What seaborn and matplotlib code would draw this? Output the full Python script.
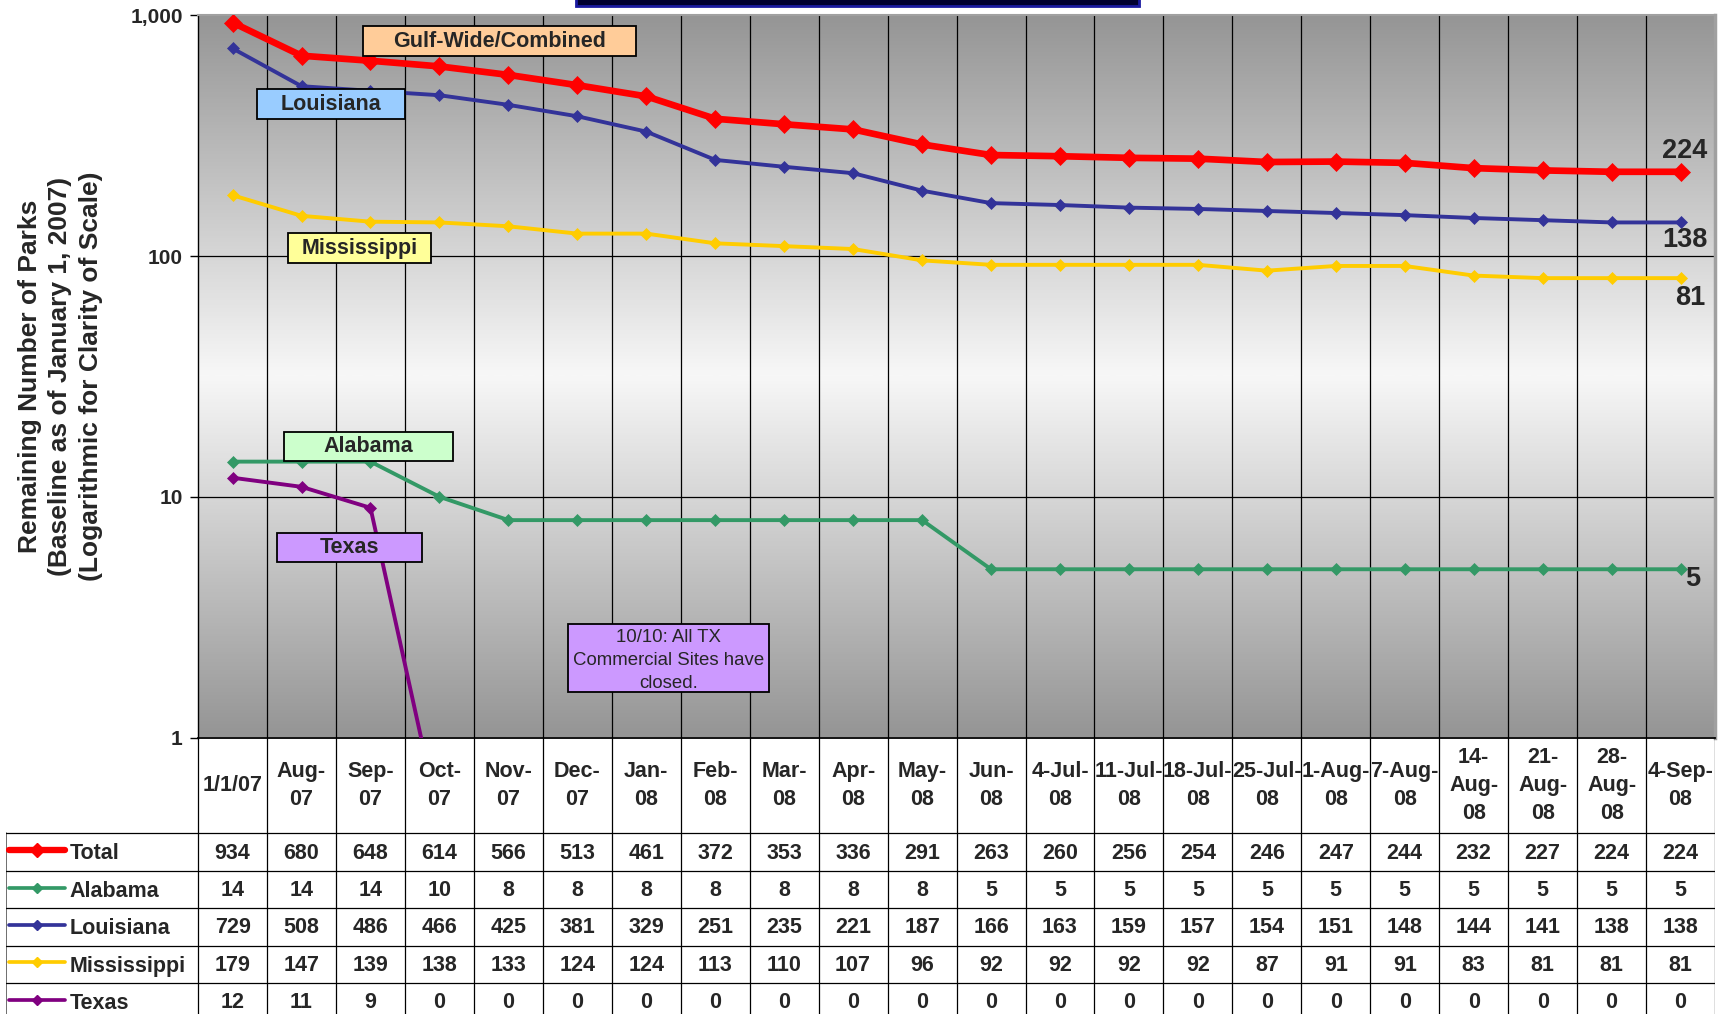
import numpy as np
import matplotlib
matplotlib.use('Agg')
import matplotlib.pyplot as plt
import seaborn as sns
from matplotlib.patches import Rectangle
from matplotlib.colors import LinearSegmentedColormap
import matplotlib.ticker as mticker

# ---------------- data ----------------
dates = ["1/1/07", "Aug-\n07", "Sep-\n07", "Oct-\n07", "Nov-\n07", "Dec-\n07",
         "Jan-\n08", "Feb-\n08", "Mar-\n08", "Apr-\n08", "May-\n08", "Jun-\n08",
         "4-Jul-\n08", "11-Jul-\n08", "18-Jul-\n08", "25-Jul-\n08", "1-Aug-\n08",
         "7-Aug-\n08", "14-\nAug-\n08", "21-\nAug-\n08", "28-\nAug-\n08", "4-Sep-\n08"]
total = [934, 680, 648, 614, 566, 513, 461, 372, 353, 336, 291, 263, 260, 256,
         254, 246, 247, 244, 232, 227, 224, 224]
alabama = [14, 14, 14, 10, 8, 8, 8, 8, 8, 8, 8, 5, 5, 5, 5, 5, 5, 5, 5, 5, 5, 5]
louisiana = [729, 508, 486, 466, 425, 381, 329, 251, 235, 221, 187, 166, 163, 159,
             157, 154, 151, 148, 144, 141, 138, 138]
mississippi = [179, 147, 139, 138, 133, 124, 124, 113, 110, 107, 96, 92, 92, 92,
               92, 87, 91, 91, 83, 81, 81, 81]
texas = [12, 11, 9, 0, 0, 0, 0, 0, 0, 0, 0, 0, 0, 0, 0, 0, 0, 0, 0, 0, 0, 0]

series_names = ["Total", "Alabama", "Louisiana", "Mississippi", "Texas"]
y_ticks = [1, 10, 100, 1000]
y_tick_labels = ["1", "10", "100", "1,000"]

# ---------------- style ----------------
colors = {"Total": "#FF0000", "Alabama": "#339966", "Louisiana": "#333399",
          "Mississippi": "#FFCC00", "Texas": "#800080"}
lws = {"Total": 4.8, "Alabama": 2.8, "Louisiana": 2.8, "Mississippi": 2.8, "Texas": 2.8}
mss = {"Total": 9.5, "Alabama": 6.4, "Louisiana": 6.4, "Mississippi": 6.4, "Texas": 6.4}
TX_ZERO_FLOOR = 0.45   # zero drawn below the log axis floor (clipped), as in the source

sns.set_theme(style='white')
plt.rcParams['font.family'] = ['Liberation Sans', 'DejaVu Sans']

W, H = 1726, 1014
fig = plt.figure(figsize=(W / 100, H / 100), dpi=100)
fig.patch.set_facecolor('white')

L, R, T, B = 198.1, 1715.0, 15.4, 737.5
n = len(dates)
rect_ax = [L / W, 1 - B / H, (R - L) / W, (B - T) / H]

# background gradient axes
bg = fig.add_axes(rect_ax, zorder=0)
grad = np.abs(np.linspace(-1, 1, 400)).reshape(-1, 1)
cmap = LinearSegmentedColormap.from_list('g', ['#f7f7f7', '#959595'])
bg.imshow(grad, aspect='auto', cmap=cmap, extent=(0, 1, 0, 1))
bg.set_xlim(0, 1); bg.set_ylim(0, 1)
bg.axis('off')

ax = fig.add_axes(rect_ax, zorder=1)
ax.patch.set_alpha(0)
ax.set_yscale('log')

x = np.arange(n)
data = {"Total": total, "Alabama": alabama, "Louisiana": louisiana,
        "Mississippi": mississippi, "Texas": texas}
order = ["Texas", "Alabama", "Mississippi", "Louisiana", "Total"]
for name in order:
    vals = data[name]
    if name == "Texas":
        vals = [v if v > 0 else TX_ZERO_FLOOR for v in vals]
    sns.lineplot(x=x, y=vals, ax=ax, color=colors[name], lw=lws[name], marker='D',
                 markersize=mss[name], markeredgecolor=colors[name],
                 markeredgewidth=0.5, zorder=3, legend=False)

ax.set_ylim(1, 1000)
ax.set_xlim(-0.5, n - 0.5)
for k in range(1, n):
    ax.axvline(k - 0.5, color='black', lw=0.9, zorder=1)
for yv in [10, 100]:
    ax.axhline(yv, color='black', lw=0.9, zorder=1)

ax.set_xticks([])
ax.set_yticks(y_ticks)
ax.set_yticklabels(y_tick_labels)
ax.yaxis.set_minor_locator(mticker.NullLocator())
ax.tick_params(axis='y', length=6, width=1, direction='out', left=True,
               labelsize=15, pad=5, color='black')
for lbl in ax.get_yticklabels():
    lbl.set_fontweight('bold')
ax.spines['left'].set_color('black'); ax.spines['left'].set_linewidth(1)
ax.spines['bottom'].set_color('black'); ax.spines['bottom'].set_linewidth(1.3)
ax.spines['top'].set_color('#a0a0a0'); ax.spines['top'].set_linewidth(1.5)
ax.spines['right'].set_color('#a0a0a0'); ax.spines['right'].set_linewidth(2.5)
ax.set_xlabel('')
ax.set_ylabel('')

# label boxes (axes-fraction layout)
boxes = [
    ("Gulf-Wide/Combined", 0.1989, 0.9641, 0.180, '#FFCC99'),
    ("Louisiana", 0.0875, 0.8773, 0.098, '#99CCFF'),
    ("Mississippi", 0.1067, 0.6776, 0.0943, '#FFFF99'),
    ("Alabama", 0.1125, 0.4031, 0.1117, '#CCFFCC'),
    ("Texas", 0.0998, 0.2630, 0.095, '#CC99FF'),
]
bh = 0.0411
for txt, cx, cy, bw, fc in boxes:
    ax.add_patch(Rectangle((cx - bw / 2, cy - bh / 2), bw, bh, transform=ax.transAxes,
                           facecolor=fc, edgecolor='black', lw=1.3, zorder=5))
    ax.text(cx, cy, txt, transform=ax.transAxes, ha='center', va='center',
            fontsize=15.5, fontweight='bold', zorder=6)

# note box
ncx, ncy, nbw, nbh = 0.3102, 0.1097, 0.1325, 0.0942
note_rect = Rectangle((ncx - nbw / 2, ncy - nbh / 2), nbw, nbh, transform=ax.transAxes,
                      facecolor='#CC99FF', edgecolor='black', lw=1.3, zorder=5)
ax.add_patch(note_rect)
nt = ax.text(ncx, ncy - 0.003, "10/10: All TX\nCommercial Sites have\nclosed.",
             transform=ax.transAxes, ha='center', va='center', fontsize=13.4,
             linespacing=1.45, zorder=6)
nt.set_clip_path(note_rect)

# end labels
end_offsets = {"Total": (3, 15), "Louisiana": (3, -13), "Mississippi": (7, -14),
               "Alabama": (9, -7)}
for name, off in end_offsets.items():
    ax.annotate(str(data[name][-1]), xy=(n - 1, data[name][-1]), xytext=off,
                textcoords='offset points', ha='center', va='center',
                fontsize=19.5, fontweight='bold', zorder=7)

# y label
fig.text(60.5 / W, 1 - 376 / H,
         "Remaining Number of Parks\n(Baseline as of January 1, 2007)\n(Logarithmic for Clarity of Scale)",
         rotation=90, ha='center', va='center', multialignment='center',
         fontsize=19, fontweight='bold', linespacing=1.36)

# title box stub at the top
fig.patches.append(Rectangle((576 / W, 1 - 5.5 / H), (1139 - 576) / W, 0.02,
                             transform=fig.transFigure, facecolor='#000030',
                             edgecolor='#1a1aa0', lw=2, zorder=10))

# ---------------- data table ----------------
TL = 5.5
tax = fig.add_axes([TL / W, 0, (R - TL) / W, (H - B) / H], zorder=2)
col_w = (R - L) / n
x_left = -0.5 - (L - TL) / col_w
row_h = 37.4
hdr = 95.8 / row_h
y_bottom = (H - B) / row_h
tax.set_xlim(x_left, n - 0.5)
tax.set_ylim(y_bottom, 0)
tax.axis('off')

for k in range(n + 1):
    tax.plot([k - 0.5, k - 0.5], [0, y_bottom], color='black', lw=0.9)
tax.plot([x_left, x_left], [hdr, y_bottom], color='#555555', lw=1.2)
for i in range(len(series_names)):
    tax.plot([x_left, n - 0.5], [hdr + i, hdr + i], color='black', lw=0.9)

for i, d in enumerate(dates):
    tax.text(i, hdr / 2, d, ha='center', va='center', fontsize=15.5,
             fontweight='bold', linespacing=1.45)

for r, name in enumerate(series_names):
    yc = hdr + r + 0.5
    for i, v in enumerate(data[name]):
        tax.text(i, yc + 0.03, str(v), ha='center', va='center', fontsize=15.5,
                 fontweight='bold')
    kx0, kx1 = x_left + 0.05, x_left + 0.86
    tax.plot([kx0, kx1], [yc - 0.05, yc - 0.05], color=colors[name],
             lw=lws[name] * 0.95, solid_capstyle='round')
    tax.plot([(kx0 + kx1) / 2], [yc - 0.05], marker='D', color=colors[name],
             markersize=mss[name] * 0.8)
    tax.text(x_left + 0.93, yc + 0.05, name, ha='left', va='center', fontsize=15.5,
             fontweight='bold')

fig.savefig('out.png', dpi=100)
